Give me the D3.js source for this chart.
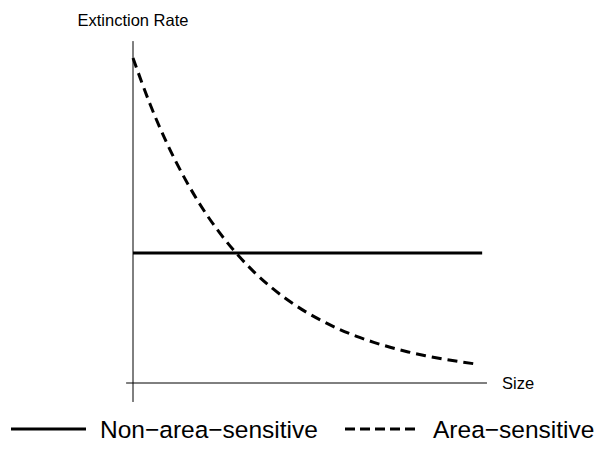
<!DOCTYPE html>
<html>
<head>
<meta charset="utf-8">
<script src="https://cdn.jsdelivr.net/npm/d3@7"></script>
<style>
  body { margin: 0; background: #fff; }
  svg { display: block; font-family: "Liberation Sans", Arial, sans-serif; }
</style>
</head>
<body>
<svg id="chart" width="600" height="449"></svg>
<script>
// ---- data ----
const sizeValues = [0, 0.5, 1, 1.5, 2, 2.5, 3, 3.5, 4, 4.5, 5, 5.5, 6, 6.5, 7, 7.5, 8, 8.5, 9, 9.5, 10];
const areaSensitive = [2.500, 2.142, 1.836, 1.576, 1.352, 1.162, 0.999, 0.859, 0.740, 0.638, 0.551, 0.477, 0.413, 0.359, 0.313, 0.273, 0.239, 0.210, 0.185, 0.164, 0.145];
const nonAreaSizes = [0, 10.15];
const nonAreaSensitive = [1, 1];
const yLabel = "Extinction Rate";
const xLabel = "Size";
const legendLabels = ["Non\u2212area\u2212sensitive", "Area\u2212sensitive"];

// ---- scales ----
const x = d3.scaleLinear().domain([0, 10]).range([133, 477]);
const y = d3.scaleLinear().domain([0, 1]).range([383, 253]);

const svg = d3.select("#chart");

// axes (plain lines, no ticks)
svg.append("line")
  .attr("x1", x(0)).attr("x2", x(0))
  .attr("y1", y(2.63)).attr("y2", y(-0.146))
  .attr("stroke", "#000").attr("stroke-width", 1);
svg.append("line")
  .attr("x1", x(-0.2)).attr("x2", x(10.29))
  .attr("y1", y(0)).attr("y2", y(0))
  .attr("stroke", "#000").attr("stroke-width", 1);

const line = d3.line().x(d => x(d[0])).y(d => y(d[1])).curve(d3.curveMonotoneX);

svg.append("path")
  .datum(nonAreaSizes.map((s, i) => [s, nonAreaSensitive[i]]))
  .attr("d", line)
  .attr("fill", "none").attr("stroke", "#000").attr("stroke-width", 3);

svg.append("path")
  .datum(sizeValues.map((s, i) => [s, areaSensitive[i]]))
  .attr("d", line)
  .attr("fill", "none").attr("stroke", "#000").attr("stroke-width", 3)
  .attr("stroke-dasharray", "10,6");

// labels
svg.append("text")
  .attr("x", x(0)).attr("y", 26)
  .attr("text-anchor", "middle")
  .attr("font-size", 16.5)
  .text(yLabel);
svg.append("text")
  .attr("x", 502).attr("y", 389)
  .attr("font-size", 16.5)
  .text(xLabel);

// legend
const lg = svg.append("g");
lg.append("line").attr("x1", 11).attr("x2", 86).attr("y1", 429).attr("y2", 429)
  .attr("stroke", "#000").attr("stroke-width", 3);
lg.append("text").attr("x", 100).attr("y", 438).attr("font-size", 24.5).text(legendLabels[0]);
lg.append("line").attr("x1", 345).attr("x2", 415).attr("y1", 429).attr("y2", 429)
  .attr("stroke", "#000").attr("stroke-width", 3).attr("stroke-dasharray", "10,5");
lg.append("text").attr("x", 433).attr("y", 438).attr("font-size", 24.5).text(legendLabels[1]);
</script>
</body>
</html>
